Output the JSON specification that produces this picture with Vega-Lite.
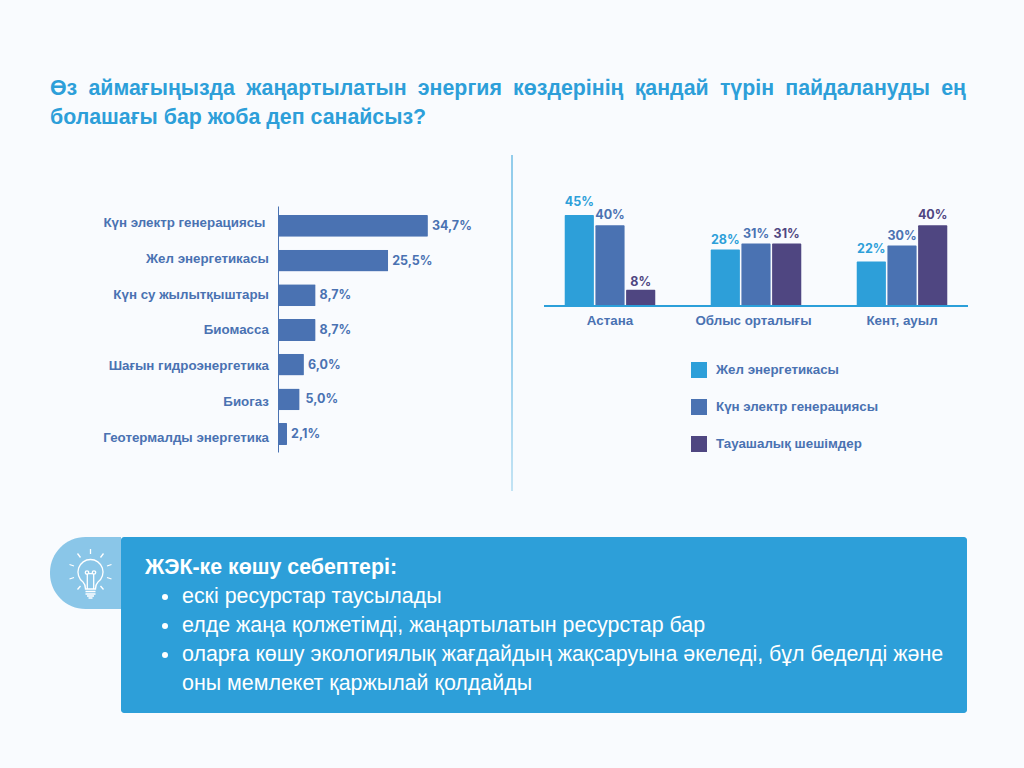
{
  "$schema": "https://vega.github.io/schema/vega-lite/v6.json",
  "background": "#f9fbfe",
  "padding": {"left": 50, "top": 77, "right": 56, "bottom": 55},
  "title": {
    "text": ["Өз\u2005 аймағыңызда\u2005 жаңартылатын\u2005 энергия\u2005 көздерінің\u2005 қандай\u2005 түрін\u2005 пайдалануды\u2005 ең", "болашағы бар жоба деп санайсыз?"],
    "anchor": "start",
    "frame": "group",
    "font": "Liberation Sans",
    "fontSize": 21.33,
    "fontWeight": "bold",
    "lineHeight": 29,
    "color": "#2d9fd9",
    "offset": 27
  },
  "spacing": 46,
  "vconcat": [
    {
      "spacing": 30.5,
      "hconcat": [
        {
          "width": 430.5,
          "height": 336,
          "data": {
            "values": [
              {"source": "Күн электр генерациясы", "share": 34.7, "label": "34,7%"},
              {"source": "Жел энергетикасы", "share": 25.5, "label": "25,5%"},
              {"source": "Күн су жылытқыштары", "share": 8.7, "label": "8,7%"},
              {"source": "Биомасса", "share": 8.7, "label": "8,7%"},
              {"source": "Шағын гидроэнергетика", "share": 6.0, "label": "6,0%"},
              {"source": "Биогаз", "share": 5.0, "label": "5,0%"},
              {"source": "Геотермалды энергетика", "share": 2.1, "label": "2,1%"}
            ]
          },
          "encoding": {
            "y": {
              "field": "source",
              "type": "nominal",
              "sort": null,
              "title": null,
              "scale": {"range": [51, 297], "paddingInner": 0.37, "paddingOuter": 0.23, "align": 0.56},
              "axis": {
                "ticks": false,
                "offset": -228,
                "domainColor": "#4a72b2",
                "labelColor": "#4a72b2",
                "labelFont": "Liberation Sans",
                "labelFontSize": 13.33,
                "labelFontWeight": "bold",
                "labelPadding": 9.5,
                "labelLimit": 300,
                "grid": false,
                "encoding": {
                  "labels": {
                    "dy": {"value": {"signal": "-3+7*datum.index"}},
                    "dx": {"value": {"signal": "datum.index==0?-3.5:0"}}
                  }
                }
              }
            },
            "x": {
              "field": "share",
              "type": "quantitative",
              "title": null,
              "axis": null,
              "scale": {"domain": [0, 46.875], "range": [228, 430.5]}
            }
          },
          "layer": [
            {"mark": {"type": "bar", "color": "#4a72b2", "cornerRadiusEnd": 1}},
            {
              "mark": {
                "type": "text",
                "align": "left",
                "baseline": "middle",
                "font": "Inter",
                "fontSize": 12.5,
                "fontWeight": "bold",
                "color": "#4a72b2",
                "dx": {"expr": "datum.share==5?6:4"}
              },
              "encoding": {"text": {"field": "label"}}
            }
          ]
        },
        {
          "width": 1,
          "height": 336,
          "data": {"values": [{"item": "divider"}]},
          "mark": {
            "type": "rect",
            "fill": {
              "gradient": "linear",
              "x1": 0, "y1": 0, "x2": 0, "y2": 1,
              "stops": [
                {"offset": 0, "color": "#2d9fd9"},
                {"offset": 0.55, "color": "#3aa5dd"},
                {"offset": 1, "color": "#8ccbea"}
              ]
            }
          },
          "encoding": {}
        },
        {
          "width": 424,
          "height": 336,
          "data": {
            "values": [
              {"place": "Астана", "kind": "Жел энергетикасы", "pct": 45, "label": "45%"},
              {"place": "Астана", "kind": "Күн электр генерациясы", "pct": 40, "label": "40%"},
              {"place": "Астана", "kind": "Тауашалық шешімдер", "pct": 8, "label": "8%"},
              {"place": "Облыс орталығы", "kind": "Жел энергетикасы", "pct": 28, "label": "28%"},
              {"place": "Облыс орталығы", "kind": "Күн электр генерациясы", "pct": 31, "label": "31%"},
              {"place": "Облыс орталығы", "kind": "Тауашалық шешімдер", "pct": 31, "label": "31%"},
              {"place": "Кент, ауыл", "kind": "Жел энергетикасы", "pct": 22, "label": "22%"},
              {"place": "Кент, ауыл", "kind": "Күн электр генерациясы", "pct": 30, "label": "30%"},
              {"place": "Кент, ауыл", "kind": "Тауашалық шешімдер", "pct": 40, "label": "40%"}
            ]
          },
          "encoding": {
            "x": {
              "field": "place",
              "type": "nominal",
              "sort": null,
              "title": null,
              "scale": {"paddingInner": 0.38, "paddingOuter": 0.142},
              "axis": {
                "orient": "bottom",
                "offset": -185,
                "domain": false,
                "ticks": false,
                "labelAngle": 0,
                "labelColor": "#4a72b2",
                "labelFont": "Liberation Sans",
                "labelFontSize": 13.33,
                "labelFontWeight": "bold",
                "labelPadding": 7,
                "grid": false,
                "encoding": {"labels": {"dx": {"value": {"signal": "datum.index==0.5?-2.5:0"}}}}
              }
            },
            "xOffset": {
              "field": "kind",
              "type": "nominal",
              "sort": null,
              "scale": {"paddingInner": 0.05}
            },
            "y": {
              "field": "pct",
              "type": "quantitative",
              "title": null,
              "axis": null,
              "stack": null,
              "scale": {"domain": [0, 74.75], "range": [151, 0]}
            },
            "color": {
              "field": "kind",
              "type": "nominal",
              "scale": {
                "domain": ["Жел энергетикасы", "Күн электр генерациясы", "Тауашалық шешімдер"],
                "range": ["#2d9fd9", "#4a72b2", "#4f4681"]
              },
              "legend": {
                "orient": "none",
                "legendX": 641,
                "legendY": 207,
                "title": null,
                "symbolType": "square",
                "symbolSize": 256,
                "symbolStrokeWidth": 0,
                "rowPadding": 21,
                "labelColor": "#4a72b2",
                "labelFont": "Liberation Sans",
                "labelFontSize": 13.33,
                "labelFontWeight": "bold",
                "labelOffset": 9,
                "labelLimit": 300
              }
            }
          },
          "layer": [
            {"mark": {"type": "bar", "cornerRadiusTopLeft": 1, "cornerRadiusTopRight": 1}},
            {
              "mark": {
                "type": "text",
                "baseline": "middle",
                "font": "Inter",
                "fontSize": 12.5,
                "fontWeight": "bold",
                "dy": {"expr": "datum.pct==45||datum.pct==22?-13:datum.pct==40?-10:datum.pct==8?-8:-9"}
              },
              "encoding": {
                "text": {"field": "label"},
                "detail": {"field": "kind"}
              }
            },
            {
              "mark": {"type": "rule", "color": "#2d9fd9", "strokeWidth": 1},
              "encoding": {
                "x": null,
                "xOffset": null,
                "color": null,
                "y": {"datum": 0}
              }
            }
          ]
        }
      ]
    },
    {
      "spacing": 0,
      "hconcat": [
        {
          "width": 71,
          "height": 72,
          "data": {"values": [{"item": "icon"}]},
          "layer": [
            {
              "mark": {
                "type": "rect",
                "color": "#8ac6e8",
                "cornerRadiusTopLeft": 36,
                "cornerRadiusBottomLeft": 36
              },
              "encoding": {}
            },
            {
              "mark": {
                "type": "point",
                "filled": false,
                "stroke": "#ffffff",
                "strokeWidth": 1.3,
                "opacity": 1,
                "size": 4,
                "xOffset": 5,
                "yOffset": -1,
                "shape": "M-7.5 10A12.5 12.5 0 1 1 7.5 10C5.5 12 5 14 5 17L-5 17C-5 14 -5.5 12 -7.5 10ZM-3.2 17L-3.2 2.2M3.2 17L3.2 2.2M-1.8 0.5A1.7 1.7 0 1 1 -5.2 0.5A1.7 1.7 0 1 1 -1.8 0.5M5.2 0.5A1.7 1.7 0 1 1 1.8 0.5A1.7 1.7 0 1 1 5.2 0.5M-2 1.6L2 1.6M-5 19.5L5 19.5M-5 22L5 22M-3.5 24L3.5 24M-2 26L2 26M0 -23L0 -18M-13 -18.5L-10 -14.5M13 -18.5L10 -14.5M-21 -7.5L-16.5 -6M21 -7.5L16.5 -6M-21 7L-16.5 5.5M21 7L16.5 5.5M-13 17.5L-10 14M13 17.5L10 14"
              },
              "encoding": {}
            }
          ]
        },
        {
          "width": 846,
          "height": 176,
          "view": {"fill": "#2d9fd9", "stroke": null, "cornerRadius": 3},
          "data": {
            "values": [
              {"line": 1, "part": "heading", "bullet": false, "text": "ЖЭК-ке көшу себептері:"},
              {"line": 2, "part": "item", "bullet": true, "text": "ескі ресурстар таусылады"},
              {"line": 3, "part": "item", "bullet": true, "text": "елде жаңа қолжетімді, жаңартылатын ресурстар бар"},
              {"line": 4, "part": "item", "bullet": true, "text": "оларға көшу экологиялық жағдайдың жақсаруына әкеледі, бұл беделді және"},
              {"line": 5, "part": "item", "bullet": false, "text": "оны мемлекет қаржылай қолдайды"}
            ]
          },
          "encoding": {
            "y": {
              "field": "line",
              "type": "ordinal",
              "title": null,
              "axis": null,
              "scale": {"type": "point", "domain": [1, 2, 3, 4, 5], "range": [31, 147], "padding": 0}
            }
          },
          "layer": [
            {
              "transform": [{"filter": "datum.part=='heading'"}],
              "mark": {
                "type": "text",
                "align": "left",
                "baseline": "middle",
                "font": "Liberation Sans",
                "fontSize": 21.33,
                "fontWeight": "bold",
                "color": "#ffffff"
              },
              "encoding": {
                "text": {"field": "text"},
                "x": {
                  "field": "part",
                  "type": "nominal",
                  "title": null,
                  "axis": null,
                  "scale": {"type": "point", "domain": ["heading", "bullet", "item"], "range": [24, 61], "padding": 0}
                }
              }
            },
            {
              "transform": [{"filter": "datum.part=='item'"}],
              "mark": {
                "type": "text",
                "align": "left",
                "baseline": "middle",
                "font": "Liberation Sans",
                "fontSize": 21.42,
                "color": "#ffffff"
              },
              "encoding": {
                "text": {"field": "text"},
                "x": {"field": "part", "type": "nominal", "title": null, "axis": null}
              }
            },
            {
              "transform": [{"filter": "datum.bullet"}],
              "mark": {"type": "point", "filled": true, "color": "#ffffff", "opacity": 1, "size": 36, "xOffset": 1.5},
              "encoding": {
                "x": {"datum": "bullet", "type": "nominal", "title": null, "axis": null}
              }
            }
          ]
        }
      ]
    }
  ],
  "config": {"view": {"stroke": null}}
}
